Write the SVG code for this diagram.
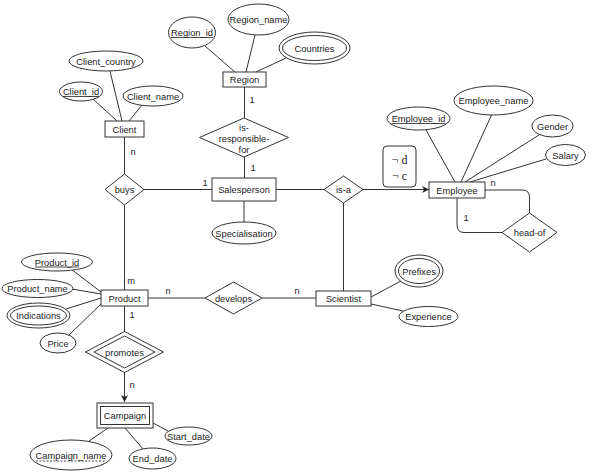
<svg xmlns="http://www.w3.org/2000/svg" width="590" height="474" viewBox="0 0 590 474">
<defs>
<style>
.s{fill:#fff;stroke:#333;stroke-width:1}
.c{fill:none;stroke:#333;stroke-width:1}
text{font-family:"Liberation Sans",Arial,sans-serif;font-size:9.3px;fill:#222;text-anchor:middle}
.u{stroke:#222;stroke-width:0.8}
</style>
<marker id="ar" viewBox="0 0 10 10" refX="10" refY="5" markerWidth="7" markerHeight="7" orient="auto" markerUnits="userSpaceOnUse">
<path d="M0,0 L10,5 L0,10 L3,5 Z" fill="#222"/>
</marker>
</defs>
<rect width="590" height="474" fill="#fff"/>
<g id="connectors">
<line class="c" x1="205" y1="46" x2="235" y2="72"/>
<line class="c" x1="255" y1="35" x2="246" y2="72"/>
<line class="c" x1="286" y1="58" x2="256" y2="72"/>
<line class="c" x1="244.5" y1="87" x2="244.5" y2="118"/>
<line class="c" x1="244.5" y1="157" x2="244.5" y2="178"/>
<line class="c" x1="93" y1="99" x2="117" y2="121"/>
<line class="c" x1="110" y1="71" x2="122" y2="121"/>
<line class="c" x1="142" y1="105" x2="129" y2="121"/>
<line class="c" x1="124.5" y1="137" x2="124.5" y2="174"/>
<line class="c" x1="124.5" y1="205" x2="124.5" y2="290"/>
<line class="c" x1="144" y1="189.5" x2="212" y2="189.5"/>
<line class="c" x1="244" y1="201" x2="244" y2="222"/>
<line class="c" x1="276" y1="189.5" x2="324" y2="189.5"/>
<line class="c" x1="363" y1="189.5" x2="429" y2="189.5" marker-end="url(#ar)"/>
<line class="c" x1="343.5" y1="203" x2="343.5" y2="291"/>
<line class="c" x1="426" y1="130" x2="455" y2="182"/>
<line class="c" x1="492" y1="114" x2="461" y2="182"/>
<line class="c" x1="539" y1="135" x2="465" y2="182"/>
<line class="c" x1="546" y1="159" x2="470" y2="182"/>
<path class="c" d="M485,190 H522 Q529.5,190 529.5,197 V213"/>
<path class="c" d="M457,198 V225 Q457,232.5 464,232.5 H502"/>
<line class="c" x1="148" y1="298" x2="205" y2="298"/>
<line class="c" x1="262" y1="298" x2="316" y2="298"/>
<line class="c" x1="371" y1="297" x2="401" y2="281"/>
<line class="c" x1="371" y1="304" x2="403" y2="311"/>
<line class="c" x1="71" y1="269" x2="101" y2="292"/>
<line class="c" x1="72" y1="289" x2="101" y2="294"/>
<line class="c" x1="66" y1="309" x2="101" y2="298"/>
<line class="c" x1="69" y1="335" x2="101" y2="304"/>
<line class="c" x1="124.5" y1="306" x2="124.5" y2="331.5"/>
<line class="c" x1="124.5" y1="372.5" x2="124.5" y2="402" marker-end="url(#ar)"/>
<line class="c" x1="108" y1="428" x2="89" y2="441"/>
<line class="c" x1="125" y1="428" x2="143" y2="449"/>
<line class="c" x1="153" y1="423" x2="168" y2="431"/>
</g>
<g id="labels">
<text x="252" y="103">1</text>
<text x="253" y="171">1</text>
<text x="133" y="155">n</text>
<text x="205" y="186">1</text>
<text x="131" y="284">m</text>
<text x="168" y="294">n</text>
<text x="297" y="294">n</text>
<text x="493" y="186">n</text>
<text x="466" y="221">1</text>
<text x="132" y="318">1</text>
<text x="132" y="388">n</text>
</g>
<g id="Region_id"><ellipse class="s" cx="192" cy="32.5" rx="23.5" ry="15.5"/><text x="192" y="36">Region_id</text><line class="u" x1="171" y1="37.5" x2="213" y2="37.5"/></g>
<g id="Region_name"><ellipse class="s" cx="258.5" cy="19.5" rx="30.5" ry="15.5"/><text x="258.5" y="23">Region_name</text></g>
<g id="Countries"><ellipse class="s" cx="314.5" cy="48" rx="35.5" ry="16"/><ellipse class="s" cx="314.5" cy="48" rx="32" ry="12.5"/><text x="314.5" y="51.5">Countries</text></g>
<g id="Region"><rect class="s" x="223" y="72" width="43" height="15"/><text x="244.5" y="83">Region</text></g>
<g id="is-responsible-for"><polygon class="s" points="244,118 288.5,137.5 244,157 199.5,137.5"/><text x="244" y="131">is-</text><text x="244" y="141.5">responsible-</text><text x="244" y="153">for</text></g>
<g id="Client_country"><ellipse class="s" cx="106" cy="61" rx="37" ry="10"/><text x="106" y="64.5">Client_country</text></g>
<g id="Client_id"><ellipse class="s" cx="81" cy="91.5" rx="21.5" ry="9.5"/><text x="81" y="95">Client_id</text><line class="u" x1="63" y1="96.5" x2="99" y2="96.5"/></g>
<g id="Client_name"><ellipse class="s" cx="153" cy="96" rx="30" ry="10"/><text x="153" y="99.5">Client_name</text></g>
<g id="Client"><rect class="s" x="105" y="121" width="39" height="16"/><text x="124.5" y="132.5">Client</text></g>
<g id="buys"><polygon class="s" points="124.5,174 144,189.5 124.5,205 105,189.5"/><text x="124.5" y="193">buys</text></g>
<g id="Salesperson"><rect class="s" x="212" y="178" width="64" height="23"/><text x="244" y="193">Salesperson</text></g>
<g id="Specialisation"><ellipse class="s" cx="244" cy="233" rx="32" ry="11"/><text x="244" y="236.5">Specialisation</text></g>
<g id="is-a"><polygon class="s" points="343.5,176 363,189.5 343.5,203 324,189.5"/><text x="343.5" y="193">is-a</text></g>
<g id="disjointness"><rect class="s" x="383" y="146" width="33" height="41" rx="4"/><text x="399.5" y="164" style="font-family:'Liberation Serif','Times New Roman',serif;font-size:12px">¬ d</text><text x="399.5" y="180" style="font-family:'Liberation Serif','Times New Roman',serif;font-size:12px">¬ c</text></g>
<g id="Employee"><rect class="s" x="429" y="182" width="56" height="16"/><text x="457" y="193.5">Employee</text></g>
<g id="Employee_id"><ellipse class="s" cx="418.5" cy="118.5" rx="31.5" ry="11.5"/><text x="418.5" y="122">Employee_id</text><line class="u" x1="391.5" y1="123.5" x2="445.5" y2="123.5"/></g>
<g id="Employee_name"><ellipse class="s" cx="493.5" cy="100.5" rx="39.5" ry="14.5"/><text x="493.5" y="104">Employee_name</text></g>
<g id="Gender"><ellipse class="s" cx="552.5" cy="126" rx="20.5" ry="11"/><text x="552.5" y="129.5">Gender</text></g>
<g id="Salary"><ellipse class="s" cx="565.5" cy="155" rx="20" ry="10.5"/><text x="565.5" y="158.5">Salary</text></g>
<g id="head-of"><polygon class="s" points="529.5,213 557,232.5 529.5,252 502,232.5"/><text x="529.5" y="236">head-of</text></g>
<g id="Product_id"><ellipse class="s" cx="57" cy="262" rx="35.5" ry="9"/><text x="57" y="265.5">Product_id</text><line class="u" x1="35" y1="267" x2="79" y2="267"/></g>
<g id="Product_name"><ellipse class="s" cx="37.5" cy="288.5" rx="35.5" ry="9"/><text x="37.5" y="292">Product_name</text></g>
<g id="Indications"><ellipse class="s" cx="38.5" cy="315.5" rx="31.5" ry="12.5"/><ellipse class="s" cx="38.5" cy="315.5" rx="28" ry="9.5"/><text x="38.5" y="319">Indications</text></g>
<g id="Price"><ellipse class="s" cx="58" cy="343" rx="18" ry="10"/><text x="58" y="346.5">Price</text></g>
<g id="Product"><rect class="s" x="101" y="290" width="47" height="16"/><text x="124.5" y="301.5">Product</text></g>
<g id="develops"><polygon class="s" points="233.5,282 262,298 233.5,314 205,298"/><text x="233.5" y="301.5">develops</text></g>
<g id="Scientist"><rect class="s" x="316" y="291" width="55" height="15"/><text x="343.5" y="302">Scientist</text></g>
<g id="Prefixes"><ellipse class="s" cx="419" cy="271" rx="24" ry="16"/><ellipse class="s" cx="419" cy="271" rx="20.5" ry="12.5"/><text x="419" y="274.5">Prefixes</text></g>
<g id="Experience"><ellipse class="s" cx="428.5" cy="316.5" rx="29.5" ry="10"/><text x="428.5" y="320">Experience</text></g>
<g id="promotes"><polygon class="s" points="124.5,331.5 163.5,352 124.5,372.5 85.5,352"/><polygon class="s" points="124.5,336 155,352 124.5,368 94,352"/><text x="124.5" y="355.5">promotes</text></g>
<g id="Campaign"><rect class="s" x="97" y="403" width="56" height="25"/><rect class="s" x="100.5" y="406.5" width="49" height="18"/><text x="125" y="419">Campaign</text></g>
<g id="Start_date"><ellipse class="s" cx="188.5" cy="436" rx="23.5" ry="9"/><text x="188.5" y="439.5">Start_date</text></g>
<g id="End_date"><ellipse class="s" cx="152.5" cy="458.5" rx="23.5" ry="10.5"/><text x="152.5" y="462">End_date</text></g>
<g id="Campaign_name"><ellipse class="s" cx="71" cy="455" rx="41" ry="15"/><text x="71" y="458.5">Campaign_name</text><line class="u" x1="36" y1="461" x2="106" y2="461" stroke-dasharray="2,1.5"/></g>
</svg>
